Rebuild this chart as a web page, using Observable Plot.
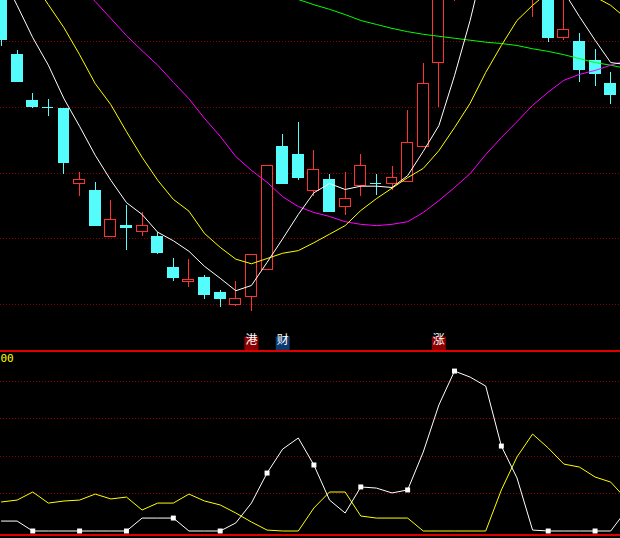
<!DOCTYPE html>
<html><head><meta charset="utf-8">
<script src="https://cdn.jsdelivr.net/npm/d3@7"></script>
<script src="https://cdn.jsdelivr.net/npm/@observablehq/plot@0.6"></script>
<style>
html,body{margin:0;padding:0;background:#000;}
#chart{width:620px;height:538px;overflow:hidden;background:#000;}
#chart svg{display:block;overflow:hidden !important;}
</style></head><body><div id="chart"></div>
<script>
// ---- Candles (index 0..39) ----
const candleOpen  = [13.08,11.80,11.10,11.00,10.97,9.84,9.72,9.03,9.19,9.10,9.03,8.56,8.34,8.40,8.18,8.00,8.12,8.53,10.39,10.27,9.72,9.90,9.48,9.81,9.84,9.83,9.86,10.40,11.67,12.80,13.00,14.00,14.30,13.80,12.80,12.90,12.06,11.99,11.70,11.36];
const candleClose = [12.02,11.38,11.01,11.00,10.16,9.89,9.20,9.28,9.16,9.20,8.78,8.41,8.38,8.14,8.09,8.09,8.75,10.11,9.83,9.92,10.04,9.40,9.60,10.11,9.84,9.92,10.46,11.36,12.75,13.00,14.00,14.40,13.80,13.30,13.10,12.06,12.17,11.56,11.51,11.19];
const candleHigh  = [13.23,11.86,11.21,11.12,10.97,10.01,9.86,9.58,9.51,9.40,9.10,8.70,8.69,8.44,8.21,8.35,8.75,10.11,10.59,10.77,10.34,9.98,10.01,10.28,9.98,10.10,10.95,11.67,12.90,13.20,14.20,14.60,14.50,13.90,13.30,13.00,12.75,12.12,11.88,11.53];
const candleLow   = [11.92,11.38,10.98,10.86,9.98,9.64,9.19,9.02,8.82,9.03,8.76,8.35,8.26,8.08,7.95,7.97,7.89,8.53,9.83,9.89,9.64,9.40,9.35,9.64,9.66,9.73,9.86,10.40,11.00,12.61,12.90,13.80,13.60,13.00,12.37,11.98,12.02,11.38,11.32,11.04];

// ---- Moving averages (index 0..40) ----
const ma5  = [13.02,12.55,12.06,11.64,11.13,10.71,10.27,9.89,9.55,9.37,9.10,8.97,8.81,8.58,8.40,8.21,8.29,8.64,9.00,9.37,9.70,9.84,9.75,9.80,9.80,9.78,9.96,10.33,10.72,11.48,12.32,13.30,13.60,13.60,13.40,13.20,12.76,12.38,12.02,11.68,11.65];
const ma10 = [13.61,13.26,12.91,12.56,12.21,11.80,11.36,11.04,10.63,10.24,9.89,9.60,9.42,9.08,8.87,8.69,8.62,8.70,8.78,8.82,8.94,9.07,9.20,9.43,9.61,9.77,9.93,10.07,10.34,10.69,11.06,11.53,11.94,12.32,12.55,12.75,12.85,12.81,12.68,12.55,12.35];
const ma20 = [13.99,13.76,13.54,13.31,13.08,12.84,12.61,12.35,12.09,11.86,11.64,11.38,11.13,10.83,10.56,10.25,10.04,9.86,9.64,9.49,9.40,9.34,9.26,9.22,9.20,9.22,9.26,9.40,9.58,9.78,9.99,10.28,10.54,10.78,11.03,11.23,11.41,11.50,11.56,11.64,11.71];
const ma60 = [null,null,null,null,null,null,null,null,null,null,null,null,null,null,13.00,12.93,12.85,12.79,12.71,12.64,12.56,12.49,12.41,12.32,12.26,12.20,12.15,12.11,12.08,12.05,12.02,11.99,11.97,11.94,11.89,11.85,11.80,11.74,11.68,11.64,11.59];

// ---- Lower indicator (index 0..40) ----
const indWhite  = [5.3,5.3,0,0,0,0,0,0,0,6.9,6.9,6.9,0,0,0,4.3,14.9,30.9,43.7,49.6,35.2,16.5,9.6,23.5,22.9,20.3,21.9,42.1,67.2,85.3,82.1,77.3,45.3,28.3,0.5,0,0,0,0,0,11];
const indYellow = [15.5,16.5,20.8,14.9,16.0,16.5,19.7,17.1,18.1,11.2,14.9,14.9,19.7,16.0,13.9,9.6,4.8,0.5,0,0,12.3,20.8,20.8,8.0,6.9,6.9,6.9,0,0,0,0,0,21.9,39.5,51.7,44.3,35.7,34.1,28.8,26.1,17];

// ---- Grid ticks and tags ----
const priceGrid = [8, 9, 10, 11, 12];
const indGrid = [20, 40, 60, 80];
const indLabel = ["00"];
const tagIndex = [16, 18, 28];
const tagText = ["港", "财", "涨"];

const RED = "#ff3232", CYAN = "#54fcfc", GRID = "#8c0000", SEP = "#e00000";
const xDomain = [-0.064, 39.628];
const priceDomain = [7.301, 12.624];
const indDomain = [-2.133, 96];

const candles = candleOpen.map((o, i) => ({
  i, open: o, close: candleClose[i], high: candleHigh[i], low: candleLow[i],
  up: candleClose[i] > o
}));
const rows = arr => arr.map((v, i) => ({i, v})).filter(d => d.v != null);
const tags = tagIndex.map((i, k) => ({i, text: tagText[k]}));
const hw = 0.35;

const upper = Plot.plot({
  width: 620, height: 350, margin: 0,
  x: {domain: xDomain, axis: null},
  y: {domain: priceDomain, axis: null},
  color: {type: "identity"},
  style: {background: "#000", overflow: "hidden"},
  marks: [
    Plot.ruleY(priceGrid, {stroke: GRID, strokeDasharray: "1,2", shapeRendering: "crispEdges"}),
    // wicks
    Plot.ruleX(candles, {x: "i", y1: "low", y2: d => Math.min(d.open, d.close), stroke: d => d.up ? RED : CYAN, shapeRendering: "crispEdges", clip: true}),
    Plot.ruleX(candles, {x: "i", y1: d => Math.max(d.open, d.close), y2: "high", stroke: d => d.up ? RED : CYAN, shapeRendering: "crispEdges", clip: true}),
    // bodies
    Plot.rect(candles.filter(d => d.open !== d.close), {
      x1: d => d.i - hw, x2: d => d.i + hw, y1: "open", y2: "close",
      fill: d => d.up ? "#000" : CYAN, stroke: d => d.up ? RED : CYAN,
      shapeRendering: "crispEdges", clip: true
    }),
    Plot.ruleY(candles.filter(d => d.open === d.close), {
      y: "close", x1: d => d.i - hw, x2: d => d.i + hw, stroke: CYAN, shapeRendering: "crispEdges"
    }),
    // moving averages
    Plot.line(rows(ma60), {x: "i", y: "v", stroke: "#00ff00", strokeWidth: 1, clip: true}),
    Plot.line(rows(ma20), {x: "i", y: "v", stroke: "#ff00ff", strokeWidth: 1, clip: true}),
    Plot.line(rows(ma10), {x: "i", y: "v", stroke: "#ffff00", strokeWidth: 1, clip: true}),
    Plot.line(rows(ma5),  {x: "i", y: "v", stroke: "#ffffff", strokeWidth: 1, clip: true}),
    // tags
    Plot.dot(tags, {x: "i", frameAnchor: "bottom", dy: -7, symbol: "square", r: 7.9,
      fill: d => d.text === "财" ? "#0b3a6e" : "#8b0000"}),
    Plot.text(tags, {x: "i", text: "text", frameAnchor: "bottom", dy: -7, fill: "#ffffff",
      fontSize: 12, fontFamily: "Noto Sans CJK SC"})
  ]
});

const lower = Plot.plot({
  width: 620, height: 188, marginTop: 0.5, marginBottom: 3.5, marginLeft: 0, marginRight: 0,
  x: {domain: xDomain, axis: null},
  y: {domain: indDomain, axis: null},
  style: {background: "#000", overflow: "hidden"},
  marks: [
    Plot.ruleY(indGrid, {stroke: GRID, strokeDasharray: "1,2", shapeRendering: "crispEdges"}),
    Plot.ruleY(indDomain, {stroke: SEP, strokeWidth: 1.2, shapeRendering: "crispEdges"}),
    Plot.line(rows(indYellow), {x: "i", y: "v", stroke: "#ffff00", strokeWidth: 1}),
    Plot.line(rows(indWhite), {x: "i", y: "v", stroke: "#ffffff", strokeWidth: 1}),
    Plot.dot(rows(indWhite).filter(d => d.i % 3 === 2), {x: "i", y: "v", symbol: "square", r: 2.8, fill: "#ffffff"}),
    Plot.text(indLabel, {text: d => d, frameAnchor: "top-left", dx: 0, dy: 3, textAnchor: "start",
      lineAnchor: "top", fill: "#ffff00", fontSize: 11, fontFamily: "DejaVu Sans Mono"})
  ]
});

const chart = document.getElementById("chart");
chart.appendChild(upper);
chart.appendChild(lower);
</script></body></html>
